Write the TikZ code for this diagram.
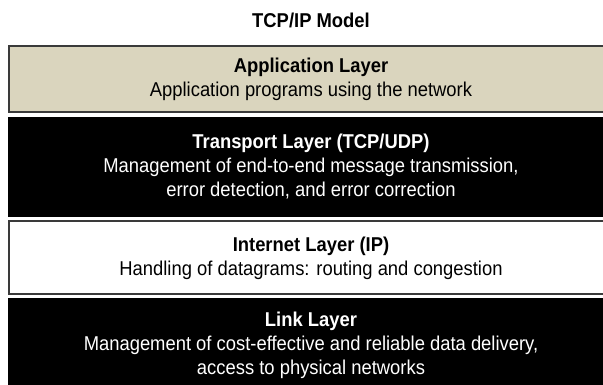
\documentclass[tikz,border=0pt]{standalone}
\usepackage{fontspec}
\setmainfont[FakeStretch=0.92]{Liberation Sans}
\usetikzlibrary{positioning}
\definecolor{appfill}{HTML}{DAD5BE}
\definecolor{rim}{HTML}{3A3A3A}
\tikzset{
  layerbox/.style={line width=1.3pt},
  layertext/.style={align=center, anchor=north, inner sep=0pt,
    font=\fontsize{20}{24}\selectfont},
}

\begin{document}
\begin{tikzpicture}[x=1pt, y=-1pt]
\useasboundingbox (0,0) rectangle (603,384);
% Title
\node[font=\fontsize{20}{24}\selectfont\bfseries, anchor=base] (title) at (311,27.3) {TCP/IP Model};
% Layer stack, top to bottom (\cap = top of the first line)
\foreach \name/\top/\bot/\cap/\col/\edge/\ink/\head/\body in {
    app/46/112/58/appfill/rim/black/{Application Layer}/{Application programs using the network},
    transport/118/216/134/black/black/white/{Transport Layer (TCP/UDP)}/{Management of end-to-end message transmission,\\ error detection, and error correction},
    internet/221/294/236.5/white/rim/black/{Internet Layer (IP)}/{Handling of datagrams: routing and congestion},
    link/299/392/311.5/black/black/white/{Link Layer}/{Management of cost-effective and reliable data delivery,\\ access to physical networks}}{
    \draw[layerbox, draw=\edge, fill=\col] (9,\top) rectangle (614,\bot);
    \node[layertext, text=\ink] (\name) at (311,\cap) {\textbf{\head}\\ \body};
}
\end{tikzpicture}
\end{document}
